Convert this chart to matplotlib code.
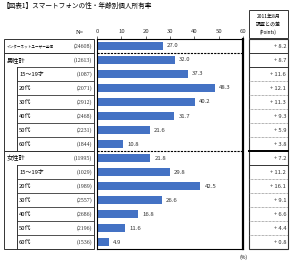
import matplotlib.pyplot as plt
from matplotlib.patches import Rectangle

plt.rcParams['font.family'] = ['Noto Sans CJK JP', 'DejaVu Sans']

# Data
labels = ['インターネットユーザー全体', '男性計', '15～19才', '20代', '30代', '40代', '50代', '60代',
          '女性計', '15～19才', '20代', '30代', '40代', '50代', '60代']
counts = [24608, 12613, 1087, 2071, 2912, 2468, 2231, 1844,
          11995, 1029, 1989, 2557, 2686, 2196, 1536]
rates = [27.0, 32.0, 37.3, 48.3, 40.2, 31.7, 21.6, 10.8,
         21.8, 29.8, 42.5, 26.6, 16.8, 11.6, 4.9]
diffs = [8.2, 8.7, 11.6, 12.1, 11.3, 9.3, 5.9, 3.8,
         7.2, 11.2, 16.1, 9.1, 6.6, 4.4, 0.8]
ticks = [0, 10, 20, 30, 40, 50, 60]

W, H = 290, 263
fig = plt.figure(figsize=(W / 100, H / 100), dpi=100)

# overlay in pixel coords for the table parts
ov = fig.add_axes([0, 0, 1, 1])
ov.set_xlim(0, W)
ov.set_ylim(H, 0)
ov.axis('off')

top, rowh = 39, 14
n = len(labels)
bot = top + n * rowh

# bar axes
ax = fig.add_axes([97 / W, 1 - bot / H, 146 / W, (bot - top) / H])
ypos = list(range(n))
ax.barh(ypos, rates, height=0.6, color='#4472C4')
ax.set_xlim(0, 60)
ax.set_ylim(n - 0.5, -0.5)
ax.set_yticks([])
ax.set_xticks(ticks)
ax.xaxis.tick_top()
ax.tick_params(axis='x', labelsize=4.3, length=2, width=0.5, pad=1.5, colors='#333333')
for s in ax.spines.values():
    s.set_linewidth(0.8)
ax.spines['right'].set_linewidth(1.6)
for y, v in zip(ypos, rates):
    ax.text(v + 1.8, y, f'{v:.1f}', va='center', ha='left', fontsize=4.3, color='#333333')
for yb in [0.5, 7.5]:
    ax.axhline(yb, color='black', lw=0.8, ls=(0, (2, 1)))

# title and small labels
ov.text(3, 6, '【図表1】スマートフォンの性・年齢別個人所有率', fontsize=4.8, va='center', ha='left')
ov.text(80, 33, 'N=', fontsize=4.5, va='center', ha='center', family='Liberation Serif')
ov.text(244, 257, '(%)', fontsize=3.6, va='center', ha='center')

# left table
lc = '#333333'
lx1 = 94
ov.add_patch(Rectangle((4, top), lx1 - 4, rowh, fill=False, lw=0.7, ec=lc))
for g in [1, 8]:
    y0 = top + g * rowh
    ov.add_patch(Rectangle((4, y0), lx1 - 4, 7 * rowh, fill=False, lw=0.7, ec=lc))
    ov.plot([17, 17], [y0 + rowh, y0 + 7 * rowh], color=lc, lw=0.7)
    for k in range(1, 7):
        ov.plot([17, lx1], [y0 + k * rowh, y0 + k * rowh], color=lc, lw=0.6)

for i, (lab, c) in enumerate(zip(labels, counts)):
    yc = top + (i + 0.5) * rowh
    if i == 0:
        ov.text(7, yc, lab, fontsize=2.6, va='center', ha='left')
    elif i in (1, 8):
        ov.text(7, yc, lab, fontsize=4.5, va='center', ha='left')
    else:
        ov.text(19, yc, lab, fontsize=4.2, va='center', ha='left')
    ov.text(lx1 - 2, yc, f'({c})', fontsize=4.2, va='center', ha='right',
            family='Liberation Serif', color='#333333')

# right table
rx0, rx1 = 249, 288
ov.add_patch(Rectangle((rx0, 10), rx1 - rx0, 28, fill=False, lw=0.7, ec=lc))
ov.text((rx0 + rx1) / 2, 16, '2011年8月', fontsize=3.6, ha='center', va='center')
ov.text((rx0 + rx1) / 2, 24, '調査との差', fontsize=3.6, ha='center', va='center')
ov.text((rx0 + rx1) / 2, 32, '(Points)', fontsize=3.4, ha='center', va='center')
ov.add_patch(Rectangle((rx0, top), rx1 - rx0, bot - top, fill=False, lw=0.8, ec=lc))
for k in range(1, n):
    y = top + k * rowh
    if k == 8:
        ov.plot([rx0, rx1], [y, y], color='black', lw=1.4)
    elif k in (1, 2, 9):
        ov.plot([rx0, rx1], [y, y], color=lc, lw=0.7)
    else:
        ov.plot([rx0, rx1], [y, y], color='#666666', lw=0.5, ls=(0, (1, 1)))
for i, d in enumerate(diffs):
    yc = top + (i + 0.5) * rowh
    ov.text(rx1 - 2, yc, f'+ {d:.1f}', fontsize=4.2, va='center', ha='right', color='#333333')

fig.savefig('out.png', dpi=100)
